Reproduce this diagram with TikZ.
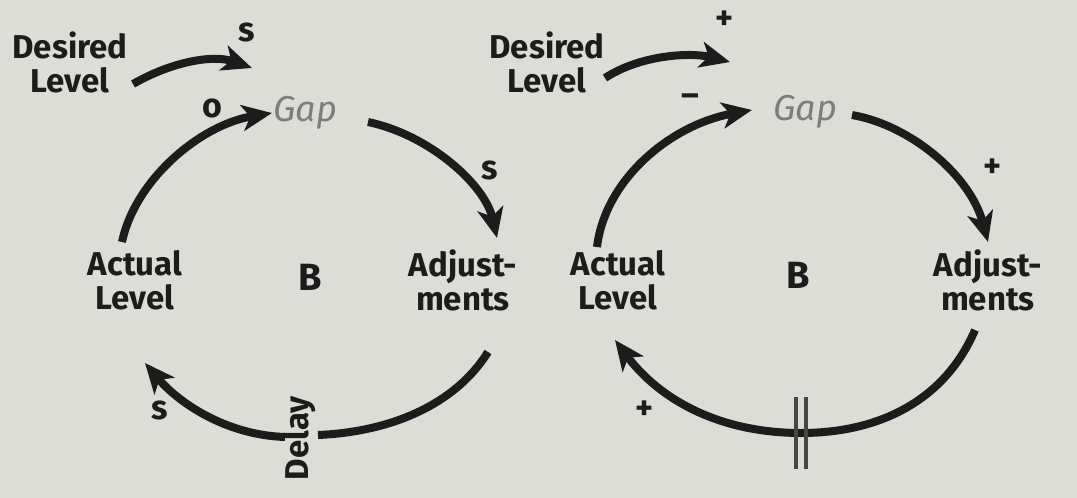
\documentclass[tikz,border=0pt]{standalone}
\usepackage{fontspec}
\setmainfont{Fira Sans}
\usetikzlibrary{arrows.meta,calc}
\definecolor{bg}{RGB}{221,221,215}
\definecolor{ink}{RGB}{28,28,28}
\definecolor{gapc}{RGB}{125,125,125}
\definecolor{dgray}{RGB}{70,70,70}
\begin{document}
\begin{tikzpicture}[x=0.5pt,y=-0.5pt,
  lbl/.style={font=\fontsize{16.5}{17}\selectfont\bfseries, text=ink, align=center, inner sep=1pt},
  gaplbl/.style={font=\fontsize{18}{19}\selectfont\itshape, text=gapc, inner sep=1pt},
  sgn/.style={font=\fontsize{17}{18}\selectfont\bfseries, text=ink, inner sep=0pt},
  loopb/.style={font=\fontsize{19}{20}\selectfont\bfseries, text=ink, inner sep=0pt},
  arr/.style={line width=4pt, draw=ink, -{Stealth[length=15pt,width=13pt,inset=4pt]}},
  ln/.style={line width=4pt, draw=ink},
  dmark/.style={line width=1.6pt, draw=dgray},
]
\fill[bg] (0,0) rectangle (1077,498);
\useasboundingbox (0,0) rectangle (1077,498);
% ---------- left loop ----------
\node[lbl] (ldes) at (70,62) {Desired\\Level};
\node[gaplbl] (lgap) at (305,113) {Gap};
\node[lbl] (lact) at (135,280) {Actual\\Level};
\node[lbl] (ladj) at (463,280) {Adjust-\\ments};
\node[loopb] (lb) at (310,277) {B};
\node[sgn] (ls1) at (247,32) {s};
\node[sgn] (lo) at (212,108) {o};
\node[sgn] (ls2) at (490,170) {s};
\node[sgn] (ls3) at (160,410) {s};
\node[lbl, rotate=90] (ldelay) at (300,438) {Delay};
\draw[arr] ($(ldes)+(63,22)$) .. controls (175,60) and (215,55) .. ($(lgap)+(-53,-45)$);
\draw[arr] ($(lact)+(-13,-38)$) .. controls (135,180) and (200,125) .. ($(lgap)+(-33,0)$);
\draw[arr] ($(lgap)+(63,9)$) .. controls (430,135) and (485,185) .. ($(ladj)+(34,-42)$);
\draw[ln] ($(ladj)+(25,72)$) .. controls (455,405) and (390,432) .. ($(ldelay)+(18,-3)$);
\draw[arr] ($(ldelay)+(-15,-1)$) .. controls (225,435) and (178,402) .. ($(lact)+(10,83)$);
% ---------- right loop ----------
\node[lbl] (rdes) at (547,62) {Desired\\Level};
\node[gaplbl] (rgap) at (805,112) {Gap};
\node[lbl] (ract) at (618,280) {Actual\\Level};
\node[lbl] (radj) at (988,280) {Adjust-\\ments};
\node[loopb] (rb) at (798,275) {B};
\node[sgn] (rp1) at (725,20) {+};
\node[sgn] (rm) at (690,100) {\textendash};
\node[sgn] (rp2) at (993,168) {+};
\node[sgn] (rp3) at (645,410) {+};
\coordinate (rdelay) at (801,433);
\draw[arr] ($(rdes)+(58,16)$) .. controls (640,55) and (690,52) .. ($(rgap)+(-75,-50)$);
\draw[arr] ($(ract)+(-21,-33)$) .. controls (605,180) and (670,125) .. ($(rgap)+(-53,-2)$);
\draw[arr] ($(rgap)+(47,3)$) .. controls (910,125) and (970,175) .. ($(radj)+(0,-38)$);
\draw[arr] ($(radj)+(-13,50)$) .. controls (945,400) and (880,433) .. (rdelay)
   .. controls (720,433) and (660,400) .. ($(ract)+(-3,60)$);
\draw[dmark] ($(rdelay)+(-5,-36)$) -- ($(rdelay)+(-5,36)$);
\draw[dmark] ($(rdelay)+(5,-36)$) -- ($(rdelay)+(5,36)$);
\end{tikzpicture}
\end{document}
